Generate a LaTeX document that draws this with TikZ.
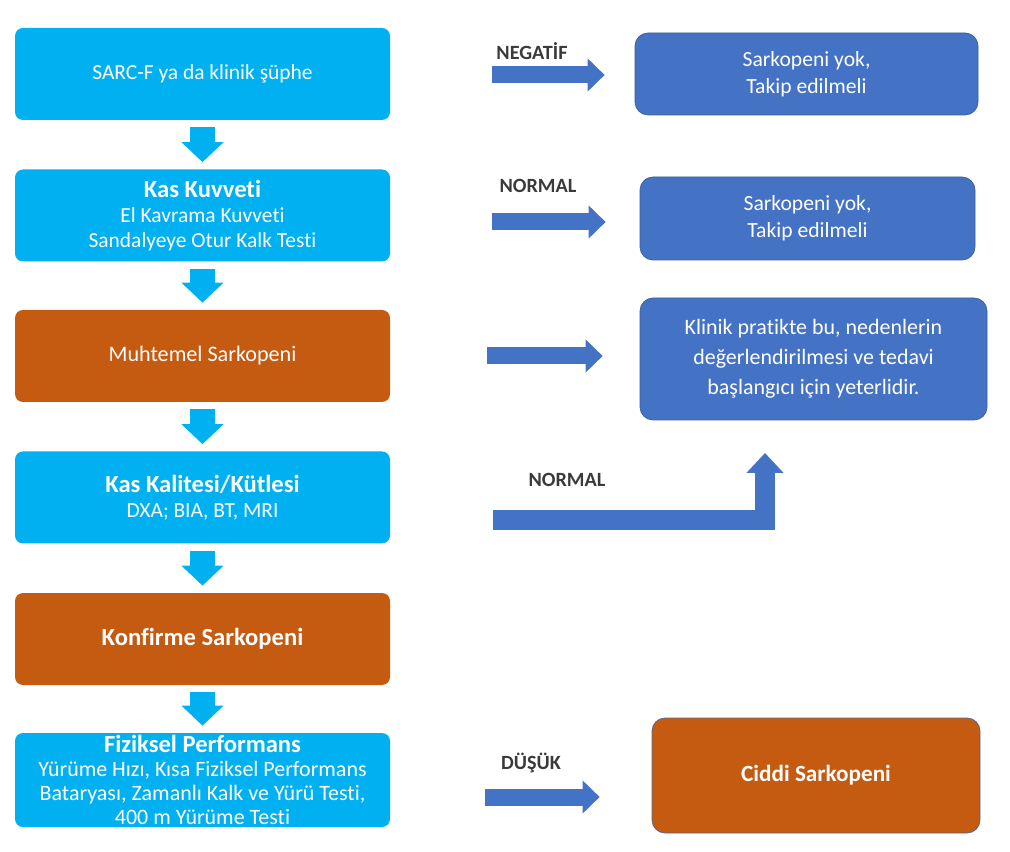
\documentclass[tikz,border=0pt]{standalone}
\usepackage{fontspec}
\setmainfont[Ligatures=NoCommon]{Carlito}
\usetikzlibrary{arrows.meta}
\definecolor{acikmavi}{HTML}{00B0F0}
\definecolor{turuncu}{HTML}{C55A11}
\definecolor{koyumavi}{HTML}{4472C4}
\definecolor{cerceve}{HTML}{3B5E9C}
\definecolor{etiket}{HTML}{3A3A3A}
\newcommand{\baslik}[1]{{\fontsize{14}{15}\selectfont\bfseries #1}}

\begin{document}
\begin{tikzpicture}[
  solkutu/.style={rounded corners=0.16cm,minimum width=7.5cm,minimum height=1.84cm,inner sep=1pt,align=center,text=white,font=\fontsize{12.2}{14}\selectfont},
  mavi/.style={solkutu,fill=acikmavi},
  kahve/.style={solkutu,fill=turuncu},
  sagkutu/.style={rounded corners=0.26cm,draw=cerceve,fill=koyumavi,align=center,text=white,font=\fontsize{12.3}{15.5}\selectfont},
  asagi/.style={draw=acikmavi,line width=0.5cm,-{Triangle[width=0.82cm,length=0.4cm]},shorten <=0.14cm,shorten >=0.14cm},
  yana/.style={draw=koyumavi,line width=0.34cm,-{Triangle[width=0.64cm,length=0.34cm]}},
  etiketyazi/.style={text=etiket,font=\fontsize{11.5}{14}\selectfont\bfseries}
]
\useasboundingbox (0,0) rectangle (20.2,-17.04);

% sol sutun
\node[mavi] (sarc) at (4.05,-1.48) {SARC-F ya da klinik şüphe};
\node[mavi] (kuvvet) at (4.05,-4.31) {\baslik{Kas Kuvveti}\\El Kavrama Kuvveti\\Sandalyeye Otur Kalk Testi};
\node[kahve] (muhtemel) at (4.05,-7.12) {\fontsize{12.6}{14}\selectfont Muhtemel Sarkopeni};
\node[mavi] (kutle) at (4.05,-9.95) {\baslik{Kas Kalitesi/Kütlesi}\\DXA; BIA, BT, MRI};
\node[kahve] (konfirme) at (4.05,-12.78) {\baslik{Konfirme Sarkopeni}};
\node[mavi,minimum height=1.88cm,inner ysep=-3pt,font=\fontsize{12.5}{13.7}\selectfont] (fiziksel) at (4.05,-15.6) {\baslik{Fiziksel Performans}\\Yürüme Hızı, Kısa Fiziksel Performans\\Bataryası, Zamanlı Kalk ve Yürü Testi,\\400 m Yürüme Testi};

\draw[asagi] (sarc) -- (kuvvet);
\draw[asagi] (kuvvet) -- (muhtemel);
\draw[asagi] (muhtemel) -- (kutle);
\draw[asagi] (kutle) -- (konfirme);
\draw[asagi] (konfirme) -- (fiziksel);

% sag sutun
\node[sagkutu,minimum width=6.86cm,minimum height=1.64cm] (yok1) at (16.13,-1.48) {Sarkopeni yok,\\Takip edilmeli};
\node[sagkutu,minimum width=6.7cm,minimum height=1.66cm] (yok2) at (16.15,-4.37) {Sarkopeni yok,\\Takip edilmeli};
\node[sagkutu,minimum width=6.94cm,minimum height=2.44cm,font=\fontsize{12.5}{17}\selectfont] (klinik) at (16.27,-7.18) {Klinik pratikte bu, nedenlerin\\değerlendirilmesi ve tedavi\\başlangıcı için yeterlidir.};
\node[sagkutu,fill=turuncu,draw=cerceve!70!gray,minimum width=6.56cm,minimum height=2.3cm,font=\fontsize{13.2}{15}\selectfont\bfseries] (ciddi) at (16.32,-15.51) {Ciddi Sarkopeni};

\node[etiketyazi] (negatif) at (10.64,-1.02) {NEGATİF};
\node[etiketyazi] (normal1) at (10.76,-3.72) {NORMAL};
\node[etiketyazi] (normal2) at (11.34,-9.6) {NORMAL};
\node[etiketyazi] (dusuk) at (10.62,-15.26) {DÜŞÜK};

\coordinate (negS) at (9.84,-1.5);
\coordinate (norS) at (9.84,-4.44);
\coordinate (muhS) at (9.74,-7.12);
\coordinate (dusS) at (9.7,-15.94);
\coordinate (kutS) at (9.86,-10.4);
\coordinate (kutE) at (15.3,-9.06);

\draw[yana,shorten >=0.6cm] (negS) -- (negS -| yok1.west);
\draw[yana,shorten >=0.68cm] (norS) -- (norS -| yok2.west);
\draw[yana,shorten >=0.74cm] (muhS) -- (muhS -| klinik.west);
\draw[yana,shorten >=1.04cm] (dusS) -- (dusS -| ciddi.west);
\draw[yana,line width=0.4cm,-{Triangle[width=0.72cm,length=0.4cm]}] (kutS) -| (kutE);
\end{tikzpicture}
\end{document}
